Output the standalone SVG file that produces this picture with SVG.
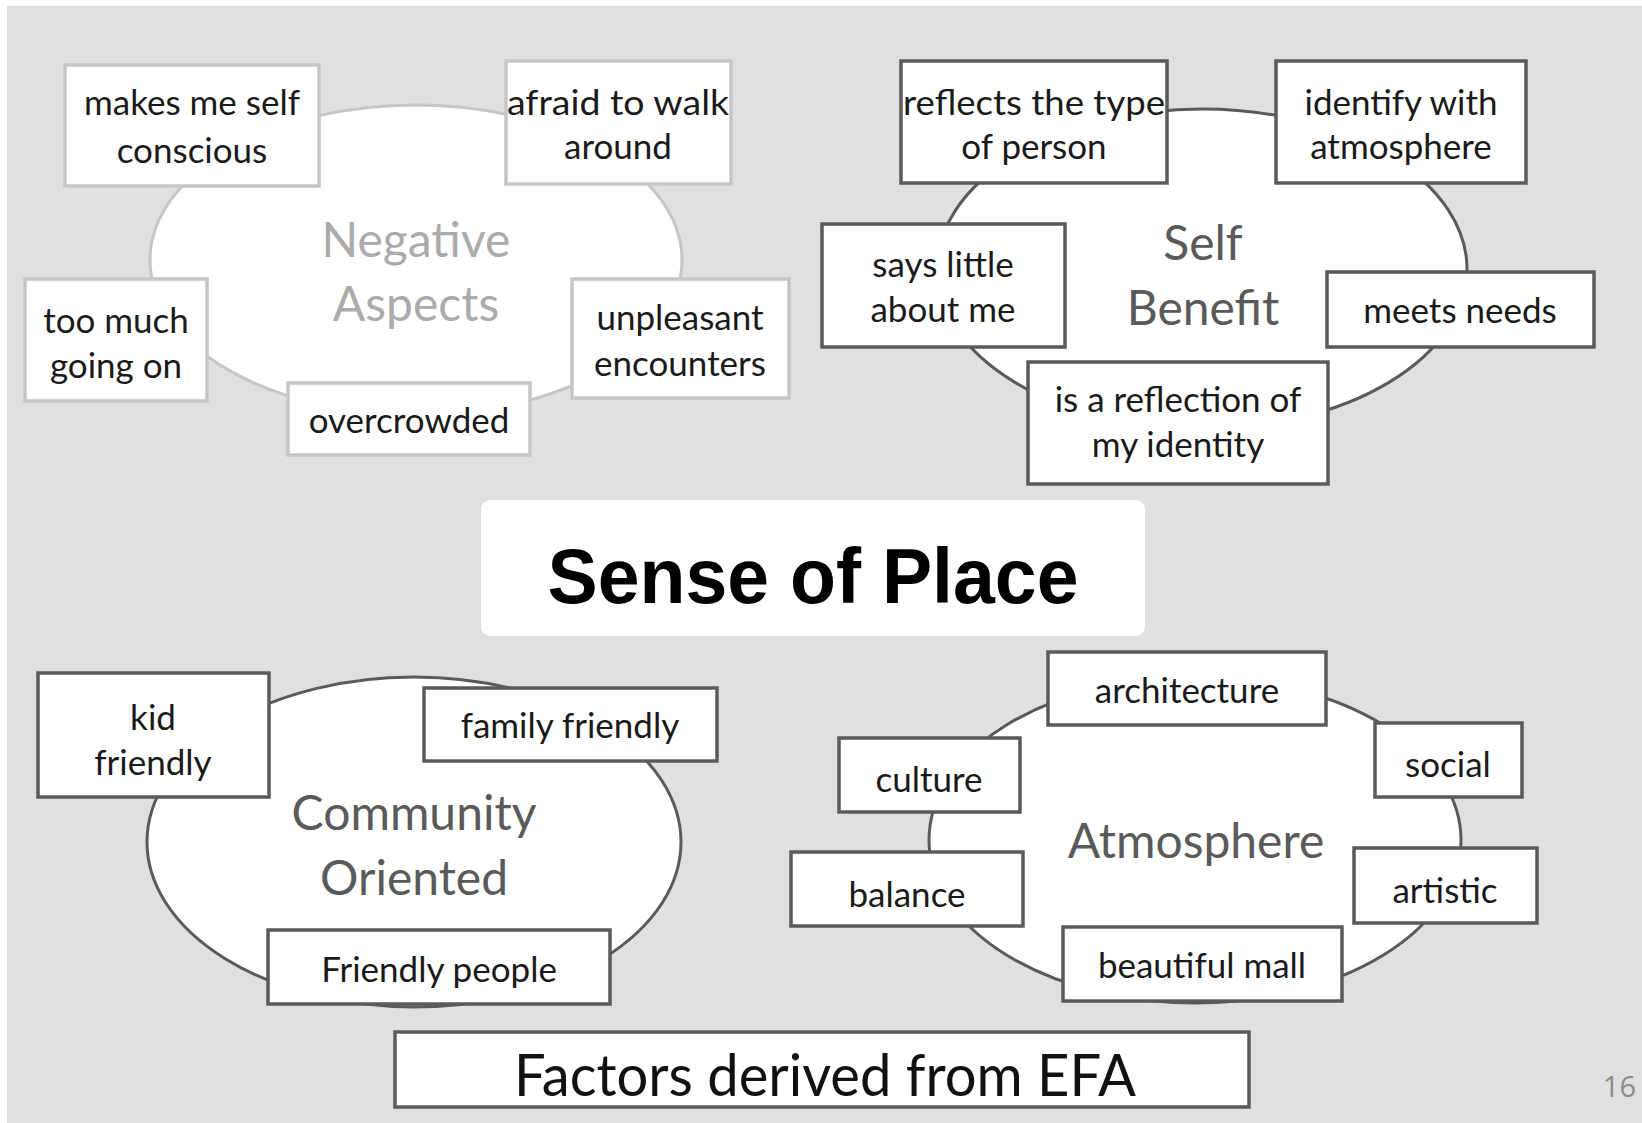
<svg xmlns="http://www.w3.org/2000/svg" width="1642" height="1123" viewBox="0 0 1642 1123">
<style>
.bg{fill:#e0e0e0}
.ell{fill:#ffffff;stroke:#5a5a5a;stroke-width:3}
.ell.light{stroke:#c6c6c6}
.box{fill:#ffffff;stroke:#5a5a5a;stroke-width:3.5}
.box.light{stroke:#c6c6c6}
.t{font-family:Lato,"Open Sans","Liberation Sans",sans-serif;font-size:35px;fill:#1a1a1a;text-anchor:middle}
.lab{font-family:Lato,"Open Sans","Liberation Sans",sans-serif;font-size:48px;fill:#5a5a5a;text-anchor:middle}
.lab.light{fill:#ababab}
</style>
<rect class="bg" x="7" y="6" width="1635" height="1117"/>

<g id="connectors"></g>

<!-- Negative Aspects cluster -->
<g id="negative-aspects">
<ellipse class="ell light" cx="416" cy="260" rx="266" ry="155"/>
<text class="lab light" x="416" y="257">Negative</text>
<text class="lab light" x="416" y="321">Aspects</text>
</g>
<g id="n-makes-me-self-conscious">
<rect class="box light" x="65" y="65" width="254" height="121"/>
<text class="t" x="192" y="115">makes me self</text>
<text class="t" x="192" y="163">conscious</text>
</g>
<g id="n-afraid-to-walk-around">
<rect class="box light" x="506" y="61" width="225" height="123"/>
<text class="t" x="618" y="115" textLength="222" lengthAdjust="spacingAndGlyphs">afraid to walk</text>
<text class="t" x="618" y="159">around</text>
</g>
<g id="n-too-much-going-on">
<rect class="box light" x="25" y="279" width="182" height="122"/>
<text class="t" x="116" y="333">too much</text>
<text class="t" x="116" y="378">going on</text>
</g>
<g id="n-unpleasant-encounters">
<rect class="box light" x="572" y="279" width="217" height="119"/>
<text class="t" x="680" y="330">unpleasant</text>
<text class="t" x="680" y="376">encounters</text>
</g>
<g id="n-overcrowded">
<rect class="box light" x="288" y="383" width="242" height="72"/>
<text class="t" x="409" y="433">overcrowded</text>
</g>

<!-- Self Benefit cluster -->
<g id="self-benefit">
<ellipse class="ell" cx="1202" cy="269" rx="265" ry="160"/>
<text class="lab" x="1203" y="260">Self</text>
<text class="lab" x="1203" y="325">Benefit</text>
</g>
<g id="n-reflects-the-type-of-person">
<rect class="box" x="901" y="61" width="266" height="122"/>
<text class="t" x="1034" y="115" textLength="262" lengthAdjust="spacingAndGlyphs">reflects the type</text>
<text class="t" x="1034" y="159">of person</text>
</g>
<g id="n-identify-with-atmosphere">
<rect class="box" x="1276" y="61" width="250" height="122"/>
<text class="t" x="1401" y="115">identify with</text>
<text class="t" x="1401" y="159">atmosphere</text>
</g>
<g id="n-says-little-about-me">
<rect class="box" x="822" y="224" width="243" height="123"/>
<text class="t" x="943" y="277">says little</text>
<text class="t" x="943" y="322">about me</text>
</g>
<g id="n-meets-needs">
<rect class="box" x="1327" y="272" width="267" height="75"/>
<text class="t" x="1460" y="323">meets needs</text>
</g>
<g id="n-is-a-reflection-of-my-identity">
<rect class="box" x="1028" y="362" width="300" height="122"/>
<text class="t" x="1178" y="412">is a reflection of</text>
<text class="t" x="1178" y="457">my identity</text>
</g>

<!-- Sense of Place title -->
<g id="title">
<rect x="481" y="500" width="664" height="136" rx="9" fill="#ffffff"/>
<text x="813" y="603" font-family="'Liberation Sans',Arial,sans-serif" font-weight="bold" font-size="77" fill="#000000" text-anchor="middle" textLength="531" lengthAdjust="spacingAndGlyphs">Sense of Place</text>
</g>

<!-- Community Oriented cluster -->
<g id="community-oriented">
<ellipse class="ell" cx="414" cy="842" rx="267" ry="165"/>
<text class="lab" x="414" y="830">Community</text>
<text class="lab" x="414" y="895">Oriented</text>
</g>
<g id="n-kid-friendly">
<rect class="box" x="38" y="673" width="231" height="124"/>
<text class="t" x="153" y="730">kid</text>
<text class="t" x="153" y="775">friendly</text>
</g>
<g id="n-family-friendly">
<rect class="box" x="424" y="688" width="293" height="73"/>
<text class="t" x="570" y="738">family friendly</text>
</g>
<g id="n-friendly-people">
<rect class="box" x="268" y="930" width="342" height="74"/>
<text class="t" x="439" y="982">Friendly people</text>
</g>

<!-- Atmosphere cluster -->
<g id="atmosphere">
<ellipse class="ell" cx="1195" cy="840" rx="266" ry="163"/>
<text class="lab" x="1196" y="858">Atmosphere</text>
</g>
<g id="n-architecture">
<rect class="box" x="1048" y="652" width="278" height="73"/>
<text class="t" x="1187" y="703">architecture</text>
</g>
<g id="n-social">
<rect class="box" x="1375" y="723" width="147" height="74"/>
<text class="t" x="1448" y="777">social</text>
</g>
<g id="n-culture">
<rect class="box" x="839" y="738" width="181" height="74"/>
<text class="t" x="929" y="792">culture</text>
</g>
<g id="n-balance">
<rect class="box" x="791" y="852" width="232" height="74"/>
<text class="t" x="907" y="907">balance</text>
</g>
<g id="n-artistic">
<rect class="box" x="1354" y="848" width="183" height="75"/>
<text class="t" x="1445" y="903">artistic</text>
</g>
<g id="n-beautiful-mall">
<rect class="box" x="1063" y="927" width="279" height="74"/>
<text class="t" x="1202" y="978">beautiful mall</text>
</g>

<!-- Footer -->
<g id="footer">
<rect class="box" x="395" y="1032" width="854" height="75"/>
<text x="825" y="1096" font-family="Lato,'Open Sans','Liberation Sans',sans-serif" font-size="58" fill="#111111" text-anchor="middle" textLength="622" lengthAdjust="spacingAndGlyphs">Factors derived from EFA</text>
</g>
<g id="page-number">
<text x="1636" y="1097" font-family="'Open Sans','Liberation Sans',sans-serif" font-size="29" fill="#8a8a8a" text-anchor="end">16</text>
</g>
</svg>
